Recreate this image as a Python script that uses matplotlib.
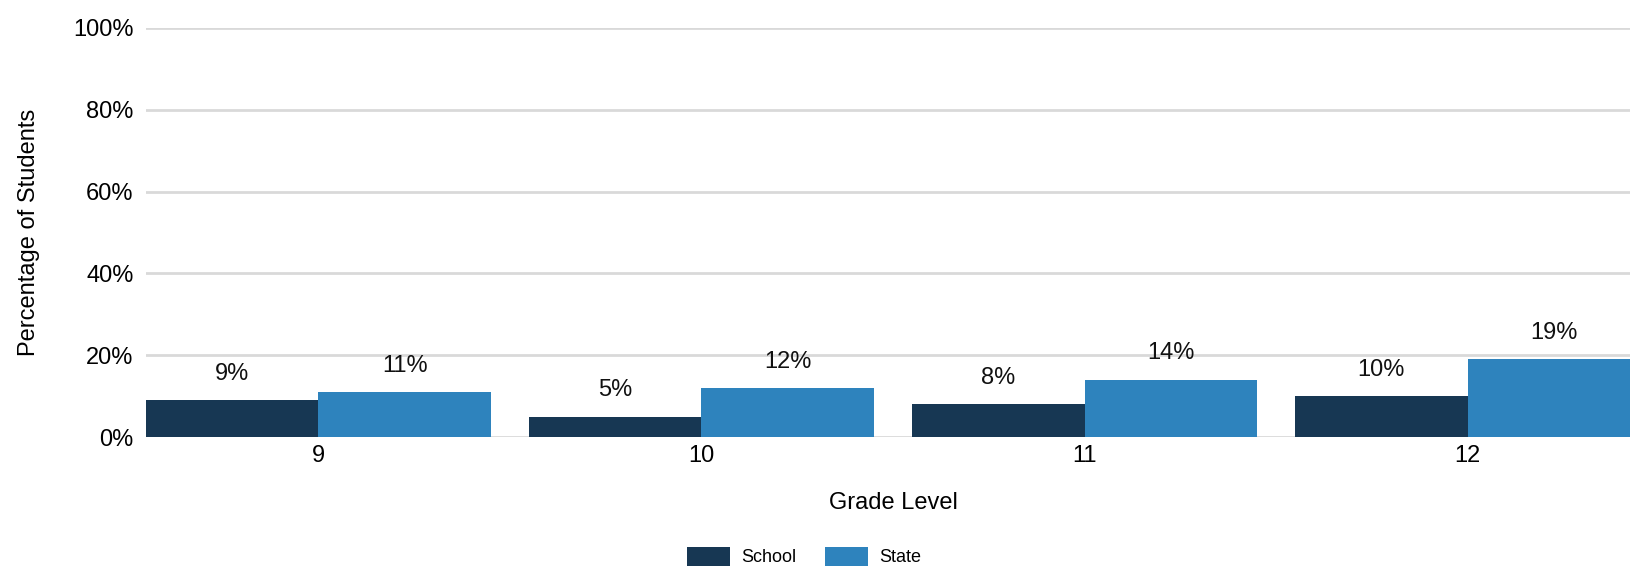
import matplotlib.pyplot as plt
import numpy as np

grades = ["9", "10", "11", "12"]
school = [9, 5, 8, 10]
state = [11, 12, 14, 19]
series_names = ["School", "State"]
colors = ["#173753", "#2e83bd"]


def main():
    fig = plt.figure(figsize=(16.31, 5.69), dpi=100)
    plt.rcParams["font.family"] = ["Liberation Sans", "DejaVu Sans"]
    # axes run slightly past the right edge of the canvas
    ax = fig.add_axes([146 / 1631, 132 / 569, 1494 / 1631, 409 / 569])

    x = np.arange(len(grades))
    width = 0.45
    for i, (vals, name) in enumerate(zip([school, state], series_names)):
        rects = ax.bar(x - width / 2 + i * width, vals, width, color=colors[i],
                       label=name, zorder=3)
        ax.bar_label(rects, labels=[f"{v}%" for v in vals], padding=11,
                     fontsize=17, color="#111111")

    ax.set_xlim(-0.45, 3.45)
    ax.set_ylim(0, 100)
    ax.set_yticks(np.arange(0, 101, 20))
    ax.set_yticklabels([f"{v}%" for v in range(0, 101, 20)], fontsize=17)
    ax.set_xticks(x, grades, fontsize=17)
    ax.tick_params(length=0, pad=9)
    ax.tick_params(axis="x", pad=6)
    ax.grid(axis="y", color="#d9d9d9", linewidth=2, zorder=0)
    for s in ax.spines.values():
        s.set_visible(False)

    ax.set_xlabel("Grade Level", fontsize=17, labelpad=18)
    ax.set_ylabel("Percentage of Students", fontsize=17, labelpad=24)

    fig.legend(loc="center", bbox_to_anchor=(0.493, 0.022), ncol=2,
               frameon=False, fontsize=13, handlelength=2.4, handleheight=1.3,
               columnspacing=1.6, handletextpad=0.6)

    plt.savefig("out.png", dpi=100)


if __name__ == "__main__":
    main()
